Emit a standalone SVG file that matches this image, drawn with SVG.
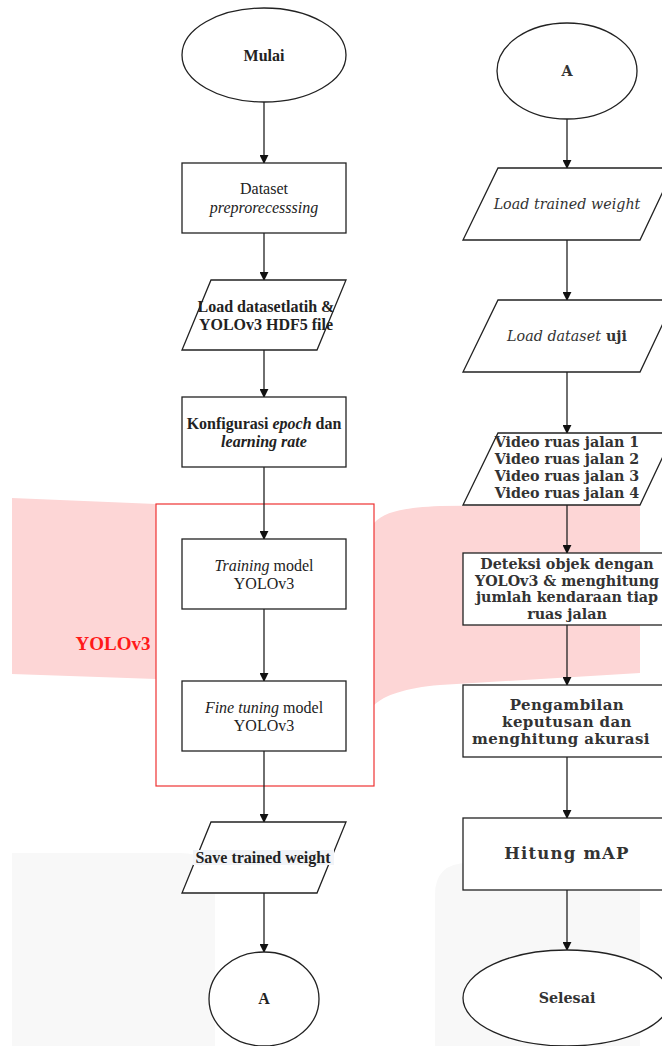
<svg xmlns="http://www.w3.org/2000/svg" width="662" height="1046" viewBox="0 0 662 1046">
<style>
.s{fill:#fff;stroke:#222;stroke-width:1.3}
.c{fill:none;stroke:#222;stroke-width:1.3}
.t{font-family:"Liberation Serif",serif;font-size:16px;fill:#222;text-anchor:middle}
.r{font-family:"DejaVu Serif",serif;font-size:14.3px;font-weight:bold;fill:#333;text-anchor:middle}
.big{font-size:16.5px;letter-spacing:1.2px}
.mid{font-size:15px;letter-spacing:0.4px}
.b{font-weight:bold}
.i{font-style:italic}
.n{font-weight:normal}
</style>
<defs>
<marker id="ah" viewBox="0 0 10 10" refX="9" refY="5" markerWidth="9" markerHeight="9" markerUnits="userSpaceOnUse" orient="auto"><path d="M0,0 L10,5 L0,10 z" fill="#111"/></marker>
</defs>
<g id="background">
<path d="M12,498 L156,504 L156,679 L12,674 Z" fill="#fdd6d6"/>
<path d="M374,523 C385,512 400,508 440,506 L640,504 L640,673 L440,685 C405,688 385,695 374,705 Z" fill="#fdd6d6"/>
<path d="M12,853 L180,853 Q215,853 215,885 L215,1046 L12,1046 Z" fill="#f8f8f8"/>
<path d="M468,863 L640,863 L640,1046 L435,1046 L435,895 Q435,863 468,863 Z" fill="#f8f8f8"/>
</g>
<g id="group-yolov3">
<rect x="156" y="504" width="218" height="282" fill="#fff" stroke="#e33" stroke-width="1.2"/>
<text x="113" y="650" font-family="Liberation Serif,serif" font-size="19" font-weight="bold" fill="#ff1a1a" text-anchor="middle">YOLOv3</text>
</g>
<g id="connectors">
<line class="c" x1="264" y1="102" x2="264" y2="163" marker-end="url(#ah)"/>
<line class="c" x1="264" y1="233" x2="264" y2="280" marker-end="url(#ah)"/>
<line class="c" x1="264" y1="350" x2="264" y2="397" marker-end="url(#ah)"/>
<line class="c" x1="264" y1="467" x2="264" y2="539" marker-end="url(#ah)"/>
<line class="c" x1="264" y1="609" x2="264" y2="681" marker-end="url(#ah)"/>
<line class="c" x1="264" y1="751" x2="264" y2="822" marker-end="url(#ah)"/>
<line class="c" x1="264" y1="893" x2="264" y2="952" marker-end="url(#ah)"/>
<line class="c" x1="567" y1="119" x2="567" y2="168" marker-end="url(#ah)"/>
<line class="c" x1="567" y1="240" x2="567" y2="300" marker-end="url(#ah)"/>
<line class="c" x1="567" y1="372" x2="567" y2="433" marker-end="url(#ah)"/>
<line class="c" x1="567" y1="505" x2="567" y2="553" marker-end="url(#ah)"/>
<line class="c" x1="567" y1="625" x2="567" y2="685" marker-end="url(#ah)"/>
<line class="c" x1="567" y1="757" x2="567" y2="818" marker-end="url(#ah)"/>
<line class="c" x1="567" y1="890" x2="567" y2="950" marker-end="url(#ah)"/>
</g>
<g id="n-mulai">
<ellipse class="s" cx="264" cy="55" rx="82" ry="47"/>
<text class="t b" x="264" y="61">Mulai</text>
</g>
<g id="n-dataset">
<rect class="s" x="182" y="163" width="164" height="70"/>
<text class="t" x="264" y="194">Dataset</text>
<text class="t i" x="264" y="213">preprorecesssing</text>
</g>
<g id="n-load-latih">
<polygon class="s" points="211,280 346,280 317,350 182,350"/>
<text class="t b" x="266" y="312">Load datasetlatih &amp;</text>
<text class="t b" x="266" y="330">YOLOv3 HDF5 file</text>
</g>
<g id="n-konfig">
<rect class="s" x="182" y="397" width="164" height="70"/>
<text class="t b" x="264" y="429">Konfigurasi <tspan class="i">epoch</tspan> dan</text>
<text class="t b i" x="264" y="447">learning rate</text>
</g>
<g id="n-training">
<rect class="s" x="182" y="539" width="164" height="70"/>
<text class="t" x="264" y="571"><tspan class="i">Training</tspan> model</text>
<text class="t" x="264" y="589">YOLOv3</text>
</g>
<g id="n-finetune">
<rect class="s" x="182" y="681" width="164" height="70"/>
<text class="t" x="264" y="713"><tspan class="i">Fine tuning</tspan> model</text>
<text class="t" x="264" y="731">YOLOv3</text>
</g>
<g id="n-save">
<polygon class="s" points="211,822 346,822 317,893 182,893"/>
<rect x="193" y="850" width="141" height="15" fill="#f2f4f8"/>
<text class="t b" x="263" y="863">Save trained weight</text>
</g>
<g id="n-a-left">
<ellipse class="s" cx="264" cy="999" rx="55" ry="47"/>
<text class="t b" x="264" y="1004">A</text>
</g>
<g id="n-a-right">
<ellipse class="s" cx="567" cy="71" rx="70" ry="48"/>
<text class="r" x="567" y="76">A</text>
</g>
<g id="n-load-weight">
<polygon class="s" points="498,168 674,168 640,240 463,240"/>
<text class="r i n" x="567" y="209" font-size="15">Load trained weight</text>
</g>
<g id="n-load-uji">
<polygon class="s" points="498,300 674,300 640,372 463,372"/>
<text class="r" x="567" y="341" font-size="15"><tspan class="i n">Load dataset</tspan> uji</text>
</g>
<g id="n-video">
<polygon class="s" points="498,433 674,433 640,505 463,505"/>
<text class="r" x="567" y="447">Video ruas jalan 1</text>
<text class="r" x="567" y="464">Video ruas jalan 2</text>
<text class="r" x="567" y="481">Video ruas jalan 3</text>
<text class="r" x="567" y="498">Video ruas jalan 4</text>
</g>
<g id="n-deteksi">
<rect class="s" x="463" y="553" width="210" height="72"/>
<text class="r" x="567" y="569">Deteksi objek dengan</text>
<text class="r" x="567" y="586">YOLOv3 &amp; menghitung</text>
<text class="r" x="567" y="602">jumlah kendaraan tiap</text>
<text class="r" x="567" y="619">ruas jalan</text>
</g>
<g id="n-pengambilan">
<rect class="s" x="463" y="685" width="210" height="72"/>
<text class="r mid" x="567" y="710">Pengambilan</text>
<text class="r mid" x="567" y="727">keputusan dan</text>
<text class="r mid" x="561" y="744">menghitung akurasi</text>
</g>
<g id="n-hitung">
<rect class="s" x="463" y="818" width="210" height="72"/>
<text class="r big" x="567" y="859">Hitung mAP</text>
</g>
<g id="n-selesai">
<ellipse class="s" cx="567" cy="998" rx="104" ry="48"/>
<text class="r" x="567" y="1003" font-size="14.5">Selesai</text>
</g>
</svg>
